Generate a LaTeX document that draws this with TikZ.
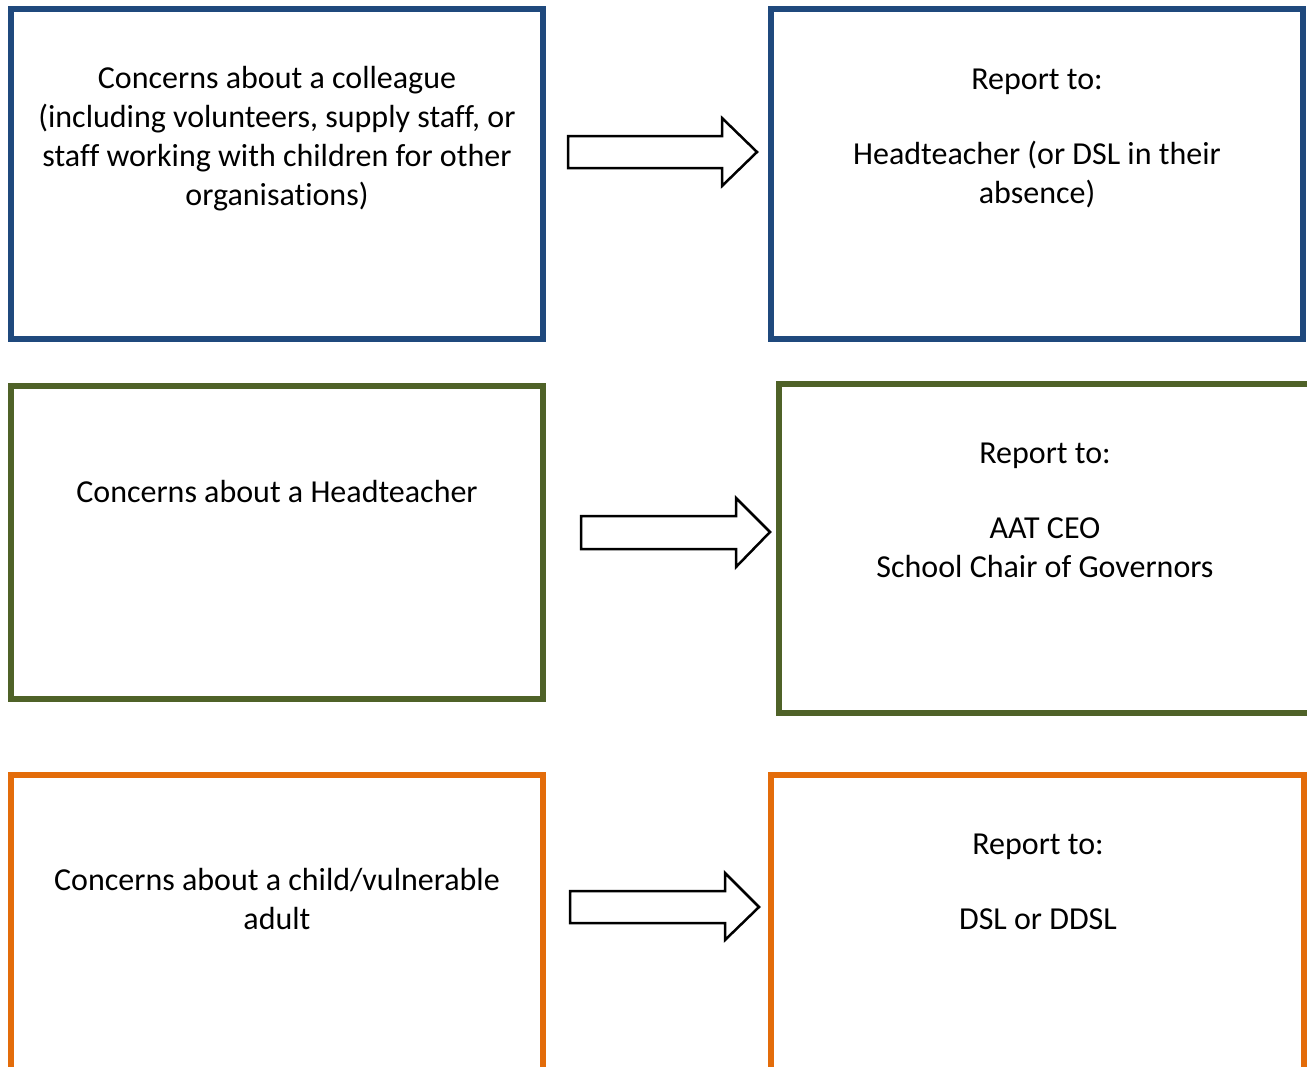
\documentclass[tikz,border=0pt]{standalone}
\usepackage{fontspec}
\setmainfont[Ligatures={NoCommon}]{Carlito}
\definecolor{boxblue}{HTML}{1F497D}
\definecolor{boxgreen}{HTML}{4F6228}
\definecolor{boxorange}{HTML}{E36C0A}
\begin{document}
\begin{tikzpicture}[x=1pt,y=-1pt,
  frame/.style={line width=6pt},
  txt/.style={align=center,inner sep=0pt,font=\fontsize{32}{39}\selectfont},
  blockarrow/.style={draw=black,line width=2.5pt,fill=white,line join=miter}]
\useasboundingbox (0,0) rectangle (1307,1066);
% boxes
\draw[frame,boxblue] (11,9) rectangle (543,339);
\draw[frame,boxblue] (771,9) rectangle (1303,339);
\draw[frame,boxgreen] (11,386) rectangle (543,699);
\draw[frame,boxgreen] (779,384) rectangle (1330,713);
\draw[frame,boxorange] (11,775) rectangle (543,1100);
\draw[frame,boxorange] (771,775) rectangle (1304,1100);
% texts
\node[txt] (t1) at (277,139) {Concerns about a colleague\\(including volunteers, supply staff, or\\staff working with children for other\\organisations)};
\node[txt] (t2) at (1037,138) {Report to:\\[36pt]Headteacher (or DSL in their\\absence)};
\node[txt] (t3) at (277,491) {Concerns about a Headteacher};
\node[txt] (t4) at (1045,510) {Report to:\\[36pt]AAT CEO\\School Chair of Governors};
\node[txt] (t5) at (277,899) {Concerns about a child/vulnerable\\adult};
\node[txt] (t6) at (1038,882) {Report to:\\[36pt]DSL or DDSL};
% block arrows
\draw[blockarrow] (568,136) -- (722,136) -- (722,118) -- (757,152) -- (722,186) -- (722,168) -- (568,168) -- cycle;
\draw[blockarrow] (581,516) -- (736,516) -- (736,498) -- (770,532) -- (736,567) -- (736,549) -- (581,549) -- cycle;
\draw[blockarrow] (570,891) -- (725,891) -- (725,873) -- (759,907) -- (725,940) -- (725,923) -- (570,923) -- cycle;
\end{tikzpicture}
\end{document}
